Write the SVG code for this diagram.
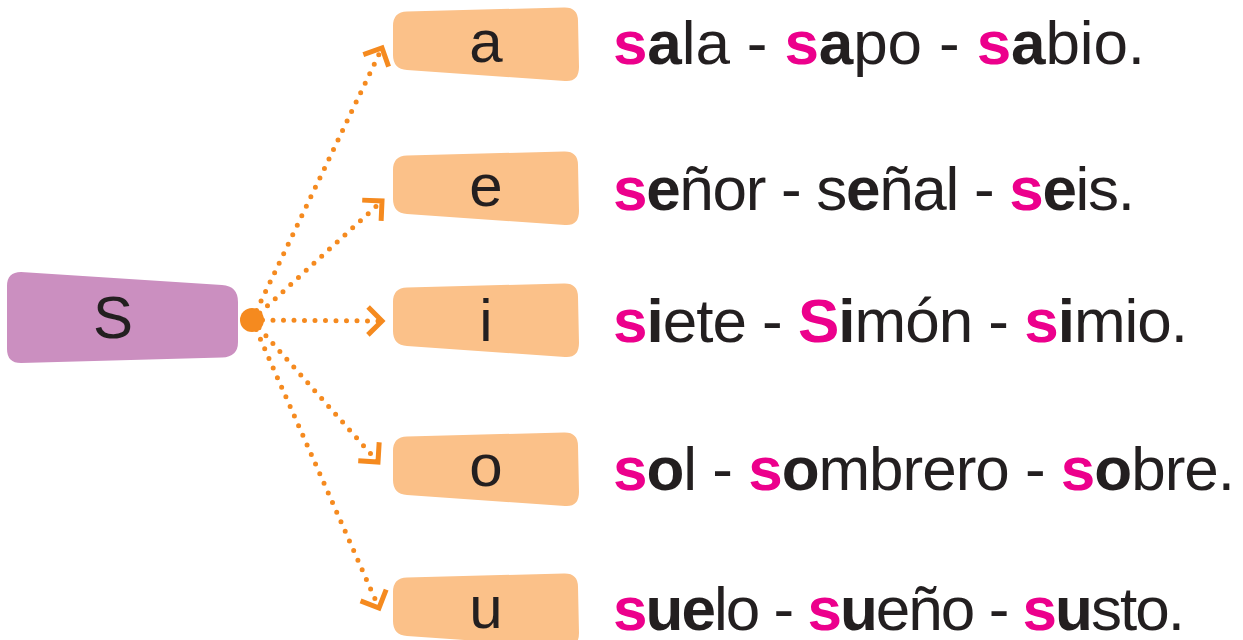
<svg xmlns="http://www.w3.org/2000/svg" width="1243" height="640" viewBox="0 0 1243 640">
<style>
.box{fill:#FBC189}
.lt{font-family:"Liberation Sans",Arial,sans-serif;font-size:60px;fill:#231F20;text-anchor:middle}
.w{font-family:"Liberation Sans",Arial,sans-serif;font-size:62px;fill:#231F20}
.p{fill:#EC008C;font-weight:bold}
.b{font-weight:bold}
.con{fill:none;stroke:#F58A1F;stroke-width:5;stroke-linecap:round;stroke-dasharray:0 10.5;marker-end:url(#chev)}
</style>
<defs>
<marker id="chev" markerUnits="userSpaceOnUse" markerWidth="40" markerHeight="40" viewBox="-20 -20 40 40" refX="0" refY="0" orient="auto" overflow="visible">
<path d="M-14,-14 L0,0 L-14,14" fill="none" stroke="#F58A1F" stroke-width="5" stroke-dasharray="none"/>
</marker>
<path id="vbox" d="M407,11.6 L564,7.4 Q578,7 578,21 L579,67 Q579,82 565,81 L407,70 Q393,69 393,55 L393,26 Q393,12 407,11.6 Z"/>
</defs>
<g id="connectors">
<path class="con" d="M252,320 L382,48"/>
<path class="con" d="M252,320 L382,201"/>
<path class="con" d="M252,320 L382,321"/>
<path class="con" d="M252,320 L378,462"/>
<path class="con" d="M252,320 L379,608"/>
</g>
<g id="node-s">
<path d="M21,272 L222,285 Q238,286 238,302 L238,342 Q238,357 222,357.5 L21,363 Q7,363 7,349 L7,286 Q7,272 21,272 Z" fill="#CB8FC0"/>
<text class="lt" x="113" y="338">S</text>
</g>
<g id="hub"><circle cx="252" cy="320" r="12" fill="#F58A1F"/></g>
<g id="node-a">
<use href="#vbox" class="box"/>
<text class="lt" x="486" y="62">a</text>
</g>
<g id="node-e">
<use href="#vbox" class="box" transform="translate(0,144)"/>
<text class="lt" x="486" y="206">e</text>
</g>
<g id="node-i">
<use href="#vbox" class="box" transform="translate(0,276)"/>
<text class="lt" x="486" y="341">i</text>
</g>
<g id="node-o">
<use href="#vbox" class="box" transform="translate(0,425)"/>
<text class="lt" x="486" y="486">o</text>
</g>
<g id="node-u">
<use href="#vbox" class="box" transform="translate(0,566)"/>
<text class="lt" x="486" y="628">u</text>
</g>
<g id="words">
<text class="w" x="613" y="64" textLength="532" lengthAdjust="spacing"><tspan class="p">s</tspan><tspan class="b">a</tspan>la - <tspan class="p">s</tspan><tspan class="b">a</tspan>po - <tspan class="p">s</tspan><tspan class="b">a</tspan>bio.</text>
<text class="w" x="613" y="210" textLength="522" lengthAdjust="spacing"><tspan class="p">s</tspan><tspan class="b">e</tspan>ñor - s<tspan class="b">e</tspan>ñal - <tspan class="p">s</tspan><tspan class="b">e</tspan>is.</text>
<text class="w" x="613" y="342" textLength="575" lengthAdjust="spacing"><tspan class="p">s</tspan><tspan class="b">i</tspan>ete - <tspan class="p">S</tspan><tspan class="b">i</tspan>món - <tspan class="p">s</tspan><tspan class="b">i</tspan>mio.</text>
<text class="w" x="613" y="490" textLength="622" lengthAdjust="spacing"><tspan class="p">s</tspan><tspan class="b">o</tspan>l - <tspan class="p">s</tspan><tspan class="b">o</tspan>mbrero - <tspan class="p">s</tspan><tspan class="b">o</tspan>bre.</text>
<text class="w" x="613" y="630" textLength="572" lengthAdjust="spacing"><tspan class="p">s</tspan><tspan class="b">ue</tspan>lo - <tspan class="p">s</tspan><tspan class="b">u</tspan>eño - <tspan class="p">s</tspan><tspan class="b">u</tspan>sto.</text>
</g>
</svg>
